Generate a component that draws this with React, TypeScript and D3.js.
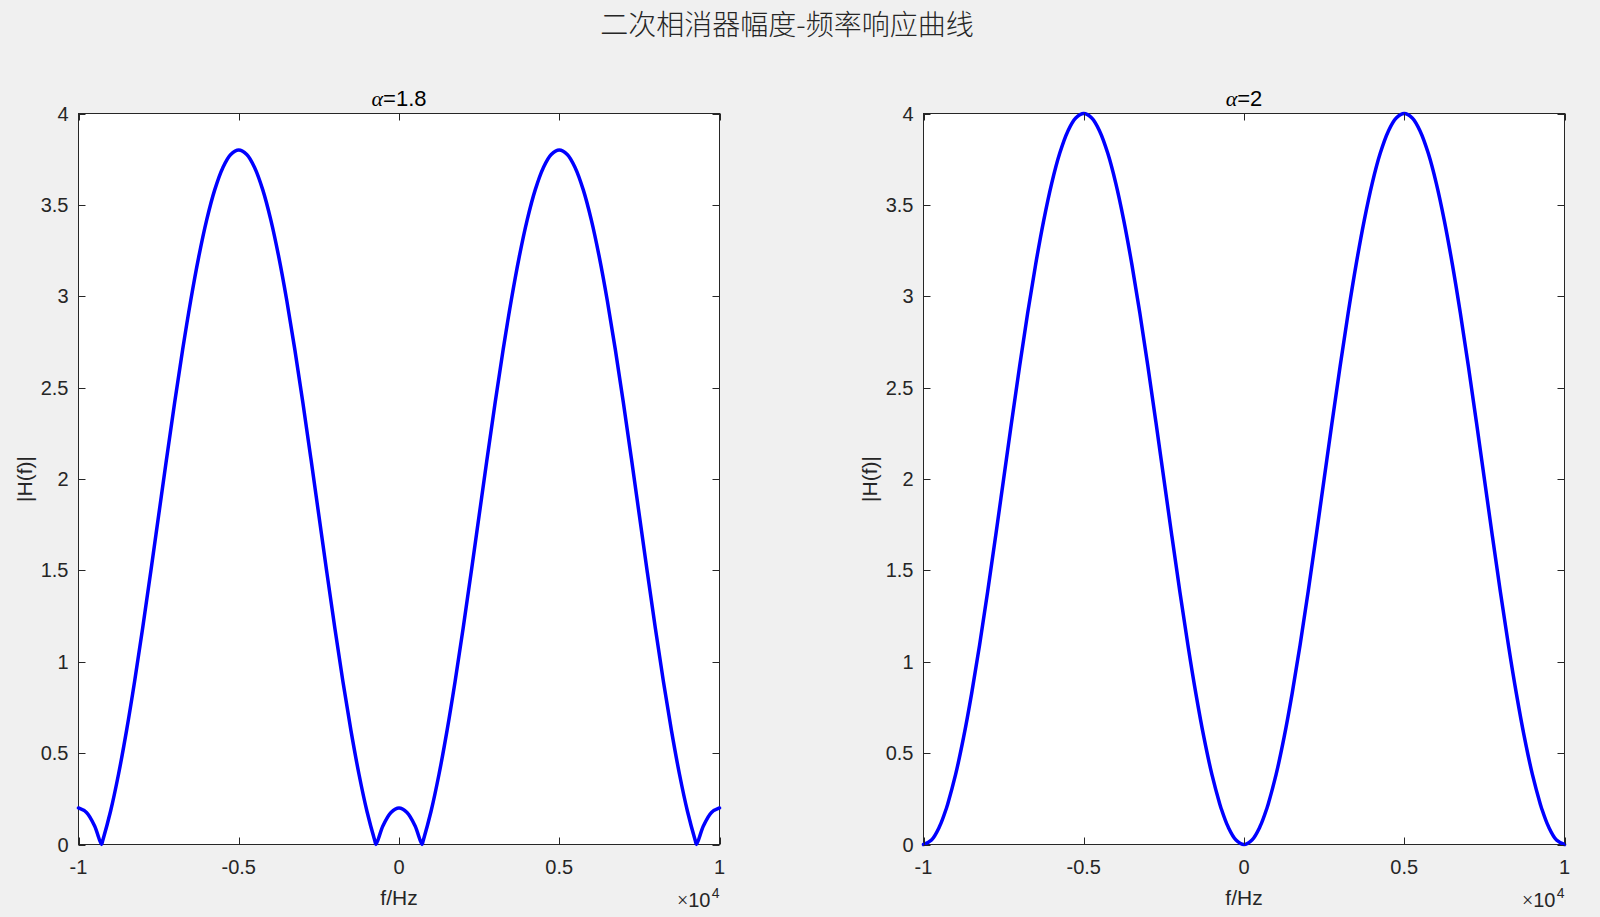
import * as d3 from 'd3'

// frequency samples (Hz), shared by both panels
const FREQ = [
  -10000, -9750, -9500, -9282, -9250, -9000, -8750, -8500, -8250, -8000, -7750, -7500,
  -7250, -7000, -6750, -6500, -6250, -6000, -5750, -5500, -5250, -5000, -4750, -4500,
  -4250, -4000, -3750, -3500, -3250, -3000, -2750, -2500, -2250, -2000, -1750, -1500,
  -1250, -1000, -750, -718, -500, -250, 0, 250, 500, 718, 750, 1000, 1250, 1500, 1750,
  2000, 2250, 2500, 2750, 3000, 3250, 3500, 3750, 4000, 4250, 4500, 4750, 5000, 5250,
  5500, 5750, 6000, 6250, 6500, 6750, 7000, 7250, 7500, 7750, 8000, 8250, 8500, 8750,
  9000, 9250, 9282, 9500, 9750, 10000,
]

// |H(f)| for alpha = 1.8
const MAG_ALPHA_18 = [
  0.2, 0.1754, 0.1021, 0, 0.018, 0.182, 0.3858, 0.6244, 0.892, 1.182, 1.4871, 1.8,
  2.1129, 2.418, 2.708, 2.9756, 3.2142, 3.418, 3.582, 3.7021, 3.7754, 3.8, 3.7754, 3.7021,
  3.582, 3.418, 3.2142, 2.9756, 2.708, 2.418, 2.1129, 1.8, 1.4871, 1.182, 0.892, 0.6244,
  0.3858, 0.182, 0.018, 0, 0.1021, 0.1754, 0.2, 0.1754, 0.1021, 0, 0.018, 0.182, 0.3858, 0.6244, 0.892,
  1.182, 1.4871, 1.8, 2.1129, 2.418, 2.708, 2.9756, 3.2142, 3.418, 3.582, 3.7021, 3.7754, 3.8, 3.7754,
  3.7021, 3.582, 3.418, 3.2142, 2.9756, 2.708, 2.418, 2.1129, 1.8, 1.4871, 1.182, 0.892, 0.6244, 0.3858,
  0.182, 0.018, 0, 0.1021, 0.1754, 0.2,
]

// |H(f)| for alpha = 2
const MAG_ALPHA_2 = [
  0, 0.0246, 0.0979, 0.2, 0.218, 0.382, 0.5858, 0.8244, 1.092, 1.382, 1.6871, 2,
  2.3129, 2.618, 2.908, 3.1756, 3.4142, 3.618, 3.782, 3.9021, 3.9754, 4, 3.9754, 3.9021,
  3.782, 3.618, 3.4142, 3.1756, 2.908, 2.618, 2.3129, 2, 1.6871, 1.382, 1.092, 0.8244,
  0.5858, 0.382, 0.218, 0.2, 0.0979, 0.0246, 0, 0.0246, 0.0979, 0.2, 0.218, 0.382, 0.5858, 0.8244, 1.092,
  1.382, 1.6871, 2, 2.3129, 2.618, 2.908, 3.1756, 3.4142, 3.618, 3.782, 3.9021, 3.9754, 4, 3.9754,
  3.9021, 3.782, 3.618, 3.4142, 3.1756, 2.908, 2.618, 2.3129, 2, 1.6871, 1.382, 1.092, 0.8244, 0.5858,
  0.382, 0.218, 0.2, 0.0979, 0.0246, 0,
]

const X_TICKS = [-10000, -5000, 0, 5000, 10000]
const X_TICK_LABELS = ['-1', '-0.5', '0', '0.5', '1']
const Y_TICKS = [0, 0.5, 1, 1.5, 2, 2.5, 3, 3.5, 4]
const Y_TICK_LABELS = ['0', '0.5', '1', '1.5', '2', '2.5', '3', '3.5', '4']
const PANEL_ALPHAS = ['1.8', '2']
const PANEL_SERIES = [MAG_ALPHA_18, MAG_ALPHA_2]

const SUPTITLE = '二次相消器幅度-频率响应曲线'
const X_LABEL = 'f/Hz'
const Y_LABEL = '|H(f)|'

const WIDTH = 1600
const HEIGHT = 917
const TOP = 113.5
const BOTTOM = 844.5
const PANEL_LEFT = [78.5, 923.5]
const PANEL_W = 641
const TICK_LEN = 7

const INK = '#262626'
const FONT = '"Liberation Sans", Arial, Helvetica, sans-serif'
const SERIF = '"Liberation Serif", "DejaVu Serif", serif'

function Panel({ left, alpha, values }: { left: number; alpha: string; values: number[] }) {
  const right = left + PANEL_W
  const x = d3.scaleLinear().domain([-10000, 10000]).range([left, right])
  const y = d3.scaleLinear().domain([0, 4]).range([BOTTOM, TOP])

  const pts = FREQ.map((f, i) => ({ f, v: values[i] }))
  const line = d3.line<{ f: number; v: number }>()
    .x(d => x(d.f))
    .y(d => y(d.v))
    .curve(d3.curveCatmullRom.alpha(0.5))

  const cx = (left + right) / 2

  return (
    <g>
      <rect x={left} y={TOP} width={PANEL_W} height={BOTTOM - TOP} fill="#ffffff" stroke={INK} strokeWidth={1} />

      <path
        d={line(pts) || ''}
        fill="none"
        stroke="#0000ff"
        strokeWidth={3.5}
        strokeLinejoin="round"
        strokeLinecap="round"
      />

      {/* ticks on all four sides */}
      {X_TICKS.map(t => (
        <g key={`xt-${t}`}>
          <line x1={Math.round(x(t)) + 0.5} x2={Math.round(x(t)) + 0.5} y1={BOTTOM} y2={BOTTOM - TICK_LEN} stroke={INK} />
          <line x1={Math.round(x(t)) + 0.5} x2={Math.round(x(t)) + 0.5} y1={TOP} y2={TOP + TICK_LEN} stroke={INK} />
        </g>
      ))}
      {Y_TICKS.map(t => (
        <g key={`yt-${t}`}>
          <line x1={left} x2={left + TICK_LEN} y1={Math.round(y(t)) + 0.5} y2={Math.round(y(t)) + 0.5} stroke={INK} />
          <line x1={right} x2={right - TICK_LEN} y1={Math.round(y(t)) + 0.5} y2={Math.round(y(t)) + 0.5} stroke={INK} />
        </g>
      ))}

      {/* tick labels */}
      {X_TICKS.map((t, i) => (
        <text key={`xl-${t}`} x={x(t)} y={874} textAnchor="middle" fontSize={20} fill={INK} fontFamily={FONT}>
          {X_TICK_LABELS[i]}
        </text>
      ))}
      {Y_TICKS.map((t, i) => (
        <text key={`yl-${t}`} x={left - 10} y={y(t) + 7} textAnchor="end" fontSize={20} fill={INK} fontFamily={FONT}>
          {Y_TICK_LABELS[i]}
        </text>
      ))}

      {/* exponent marker */}
      <text x={right - 9} y={907} textAnchor="end" fontSize={20} fill={INK} fontFamily={FONT}>
        <tspan fontFamily={SERIF}>×</tspan>10
      </text>
      <text x={right} y={897.5} textAnchor="end" fontSize={14} fill={INK} fontFamily={FONT}>4</text>

      {/* axis labels */}
      <text x={cx} y={905} textAnchor="middle" fontSize={21} fill={INK} fontFamily={FONT}>{X_LABEL}</text>
      <text
        transform={`translate(${left - 47},${(TOP + BOTTOM) / 2}) rotate(-90)`}
        textAnchor="middle"
        fontSize={21}
        fill={INK}
        fontFamily={FONT}
      >
        {Y_LABEL}
      </text>

      {/* panel title */}
      <text x={cx} y={106} textAnchor="middle" fontSize={22} fill="#000000" fontFamily={FONT}>
        <tspan fontFamily={SERIF} fontStyle="italic">α</tspan>={alpha}
      </text>
    </g>
  )
}

export default function App() {
  return (
    <div style={{ position: 'absolute', left: 0, top: 0 }}>
      <svg width={WIDTH} height={HEIGHT} viewBox={`0 0 ${WIDTH} ${HEIGHT}`} style={{ display: 'block', background: '#f0f0f0' }}>
        <text
          x={787}
          y={35}
          textAnchor="middle"
          fontSize={28}
          fontWeight={300}
          fill={INK}
          fontFamily='"Noto Sans CJK SC", sans-serif'
        >
          {SUPTITLE}
        </text>
        {PANEL_LEFT.map((left, i) => (
          <Panel key={PANEL_ALPHAS[i]} left={left} alpha={PANEL_ALPHAS[i]} values={PANEL_SERIES[i]} />
        ))}
      </svg>
    </div>
  )
}
